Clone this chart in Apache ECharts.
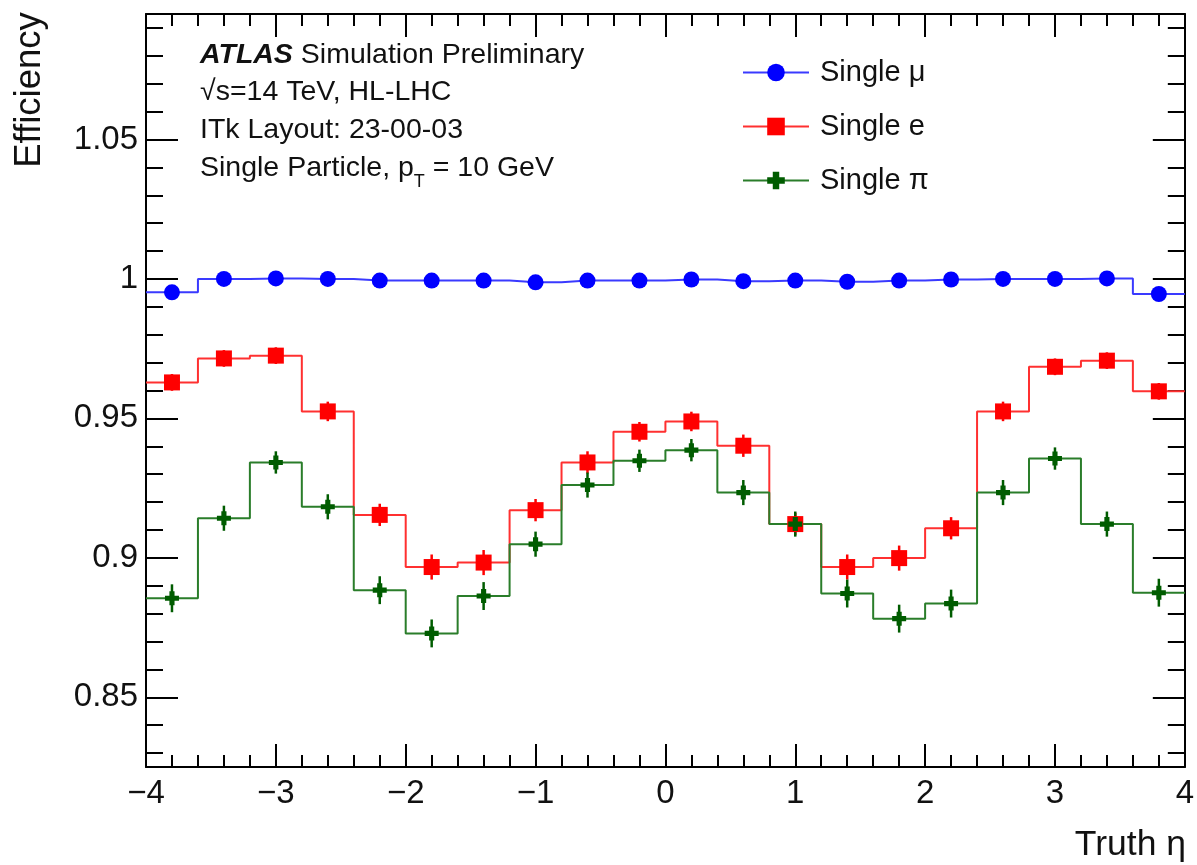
<!DOCTYPE html>
<html>
<head>
<meta charset="utf-8">
<script src="https://cdn.jsdelivr.net/npm/echarts@6/dist/echarts.min.js"></script>
<style>
html,body{margin:0;padding:0;background:#fff;}
#chart{width:1197px;height:865px;}
</style>
</head>
<body>
<div id="chart"></div>
<script>
// ---- data ----
const etaCenters = [-3.8,-3.4,-3.0,-2.6,-2.2,-1.8,-1.4,-1.0,-0.6,-0.2,0.2,0.6,1.0,1.4,1.8,2.2,2.6,3.0,3.4,3.8];
const binHalfWidth = 0.2;
const effMu = [0.9952,1.0000,1.0002,1.0000,0.9994,0.9994,0.9994,0.9988,0.9994,0.9994,0.9998,0.9992,0.9994,0.9990,0.9994,0.9998,1.0000,1.0000,1.0002,0.9946];
const effE  = [0.9629,0.9715,0.9725,0.9525,0.9154,0.8967,0.8983,0.9171,0.9342,0.9452,0.9489,0.9402,0.9121,0.8967,0.8999,0.9106,0.9525,0.9685,0.9707,0.9597];
const effPi = [0.8855,0.9142,0.9342,0.9183,0.8884,0.8729,0.8863,0.9049,0.9261,0.9348,0.9386,0.9234,0.9121,0.8872,0.8782,0.8836,0.9234,0.9356,0.9121,0.8875];
const errE  = [0.0030,0.0030,0.0030,0.0035,0.0040,0.0045,0.0045,0.0040,0.0040,0.0035,0.0035,0.0040,0.0040,0.0045,0.0045,0.0040,0.0035,0.0030,0.0030,0.0030];
const errPi = [0.0050,0.0045,0.0040,0.0045,0.0050,0.0050,0.0050,0.0045,0.0045,0.0040,0.0040,0.0045,0.0045,0.0050,0.0050,0.0050,0.0045,0.0040,0.0045,0.0050];
const yMajorTicks = [0.85,0.9,0.95,1,1.05];
const yMinorTicks = [0.83,0.84,0.85,0.86,0.87,0.88,0.89,0.9,0.91,0.92,0.93,0.94,0.95,0.96,0.97,0.98,0.99,1,1.01,1.02,1.03,1.04,1.05,1.06,1.07,1.08,1.09];
const seriesNames = ['Single μ','Single e','Single π'];

const FONT = '"Liberation Sans", Arial, Helvetica, sans-serif';
const chart = echarts.init(document.getElementById('chart'), null, {renderer:'canvas'});

function stepData(vals){
  const out = [];
  etaCenters.forEach((c,i)=>{
    out.push({value:[c-binHalfWidth, vals[i]], symbol:'none'});
    out.push({value:[c, vals[i]]});
    out.push({value:[c+binHalfWidth, vals[i]], symbol:'none'});
  });
  return out;
}
function errData(vals, errs){
  return etaCenters.map((c,i)=>[c, vals[i], errs[i]]);
}
function errSeries(name, vals, errs, color){
  return {
    type:'custom', name:name, xAxisIndex:0, yAxisIndex:0, z:3, silent:true,
    data: errData(vals, errs),
    renderItem:function(params, api){
      const x = api.value(0), y = api.value(1), e = api.value(2);
      const p1 = api.coord([x, y-e]), p2 = api.coord([x, y+e]);
      return {type:'line', shape:{x1:p1[0],y1:p1[1],x2:p2[0],y2:p2[1]}, style:{stroke:color, lineWidth:2.5}};
    }
  };
}
const plusPath = 'path://M-1.1,-3 L1.1,-3 L1.1,-1.1 L3,-1.1 L3,1.1 L1.1,1.1 L1.1,3 L-1.1,3 L-1.1,1.1 L-3,1.1 L-3,-1.1 L-1.1,-1.1 Z';

const tickStyle = {color:'#000', width:2};
function yAxisDef(pos, major){
  return {type:'value', position:pos, min:0.825, max:1.095,
    axisLine:{show:major, onZero:false, lineStyle:{color:'#000', width:2}},
    axisTick:{show:true, inside:true, length: major ? 32 : 17, customValues: major ? yMajorTicks : yMinorTicks, lineStyle:tickStyle},
    axisLabel:(pos==='left' && major) ? {show:true, customValues:yMajorTicks, fontSize:33, fontFamily:FONT, color:'#111', margin:8,
       formatter:v => String(+(+v).toFixed(2))} : {show:false},
    splitLine:{show:false}};
}
const option = {
  backgroundColor:'#fff',
  animation:false,
  grid:{left:146, right:6, top:14, bottom:98},
  xAxis:[
    {type:'value', position:'bottom', min:-4, max:4, interval:1,
     axisLine:{show:true, onZero:false, lineStyle:{color:'#000', width:2}},
     axisTick:{show:true, inside:true, length:23, lineStyle:tickStyle},
     minorTick:{show:true, splitNumber:5, length:12, lineStyle:tickStyle},
     axisLabel:{fontSize:33, fontFamily:FONT, color:'#111', margin:10,
       formatter:v => (v<0 ? '\u2212'+Math.abs(v) : String(v))},
     splitLine:{show:false}, minorSplitLine:{show:false}},
    {type:'value', position:'top', min:-4, max:4, interval:1,
     axisLine:{show:true, onZero:false, lineStyle:{color:'#000', width:2}},
     axisTick:{show:true, inside:true, length:23, lineStyle:tickStyle},
     minorTick:{show:true, splitNumber:5, length:12, lineStyle:tickStyle},
     axisLabel:{show:false}, splitLine:{show:false}}
  ],
  yAxis:[
    yAxisDef('left', true),
    yAxisDef('left', false),
    yAxisDef('right', true),
    yAxisDef('right', false)
  ],
  legend:{
    orient:'vertical', left:742, top:58, padding:0, itemWidth:66, itemHeight:22, itemGap:25,
    data:seriesNames, selectedMode:false,
    textStyle:{fontSize:29, fontFamily:FONT, color:'#111', padding:[0,0,0,6]}
  },
  series:[
    {type:'line', name:seriesNames[0], data:stepData(effMu), z:4,
     symbol:'circle', symbolSize:16, showAllSymbol:true,
     itemStyle:{color:'#0000ff'}, lineStyle:{color:'#3a3aff', width:2}},
    {type:'line', name:seriesNames[1], data:stepData(effE), z:4,
     symbol:'rect', symbolSize:16, showAllSymbol:true,
     itemStyle:{color:'#ff0000'}, lineStyle:{color:'#ff3030', width:2}},
    {type:'line', name:seriesNames[2], data:stepData(effPi), z:4,
     symbol:plusPath, symbolSize:14, showAllSymbol:true,
     itemStyle:{color:'#005c00'}, lineStyle:{color:'#2a7d2a', width:2}},
    errSeries('err_e', effE, errE, '#ff0000'),
    errSeries('err_pi', effPi, errPi, '#005c00')
  ],
  graphic:[
    {type:'text', x:200, y:55, style:{
      text:'{b|ATLAS} Simulation Preliminary', fontSize:28.5, fontFamily:FONT, fill:'#111',
      verticalAlign:'middle', textVerticalAlign:'middle',
      rich:{b:{fontSize:28.5, fontFamily:FONT, fontWeight:'bold', fontStyle:'italic', fill:'#111'}}}},
    {type:'text', x:200, y:92, style:{text:'√s=14 TeV, HL-LHC', fontSize:28.5, fontFamily:FONT, fill:'#111',
      verticalAlign:'middle', textVerticalAlign:'middle'}},
    {type:'text', x:200, y:130, style:{text:'ITk Layout: 23-00-03', fontSize:28.5, fontFamily:FONT, fill:'#111',
      verticalAlign:'middle', textVerticalAlign:'middle'}},
    {type:'text', x:200, y:168, style:{
      text:'{n|Single Particle, p}{s|T}{n| = 10 GeV}', fontSize:28.5, fontFamily:FONT, fill:'#111',
      verticalAlign:'middle', textVerticalAlign:'middle',
      rich:{n:{fontSize:28.5, fontFamily:FONT, lineHeight:46, verticalAlign:'middle', fill:'#111'},
            s:{fontSize:18, fontFamily:FONT, lineHeight:18, verticalAlign:'bottom', fill:'#111'}}}},
    {type:'text', x:30, y:90, rotation:Math.PI/2, style:{
      text:'Efficiency', fontSize:36.5, fontFamily:FONT, fill:'#111', align:'center', verticalAlign:'middle',
      textAlign:'center', textVerticalAlign:'middle'}},
    {type:'text', x:1186, y:845, style:{
      text:'Truth η', fontSize:35.5, fontFamily:FONT, fill:'#111', align:'right', verticalAlign:'middle',
      textAlign:'right', textVerticalAlign:'middle'}}
  ]
};
chart.setOption(option);
</script>
</body>
</html>
